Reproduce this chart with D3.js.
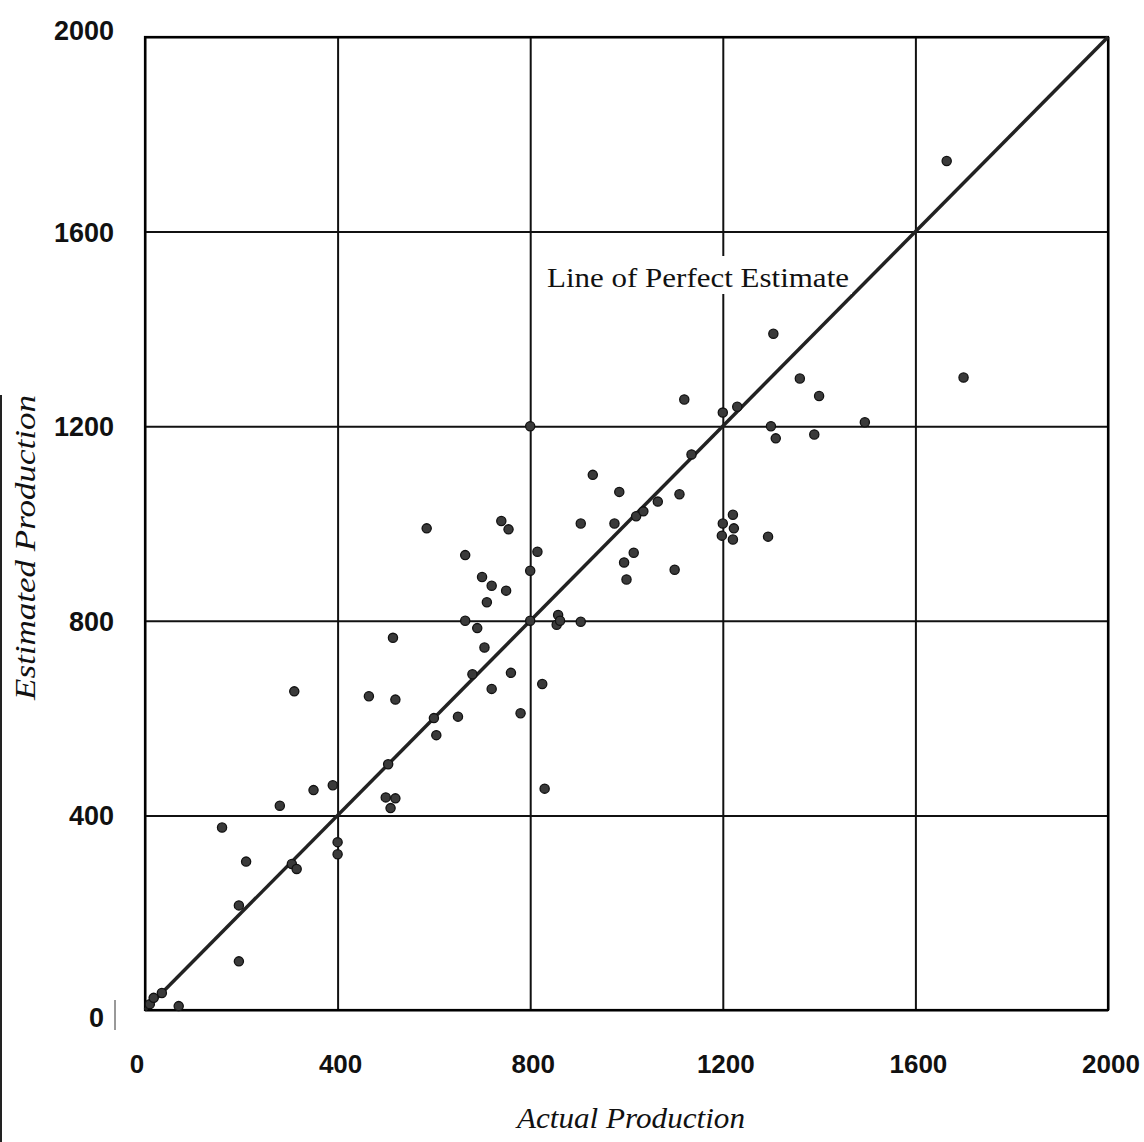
<!DOCTYPE html>
<html>
<head>
<meta charset="utf-8">
<script src="https://cdn.jsdelivr.net/npm/d3@7"></script>
<style>
  html, body { margin: 0; padding: 0; background: #fff; }
  svg { display: block; }
</style>
</head>
<body>
<div id="chart"></div>
<script>
// values
const actual = [10, 18, 35, 70, 160, 195, 195, 210, 280, 305, 315, 310, 350, 390, 400, 400,
  465, 500, 520, 510, 505, 515, 520, 600, 605, 650, 585, 665, 665, 680, 690, 700, 705, 710,
  720, 720, 740, 750, 755, 760, 780, 800, 800, 800, 815, 825, 830, 858, 855, 862, 905, 905,
  930, 975, 985, 995, 1000, 1015, 1020, 1035, 1065, 1100, 1110, 1120, 1135, 1200, 1200, 1198,
  1230, 1221, 1223, 1221, 1294, 1300, 1305, 1310, 1360, 1390, 1400, 1495, 1665, 1700];
const estimated = [12, 25, 35, 8, 375, 215, 100, 305, 420, 300, 290, 655, 452, 462, 345, 320,
  645, 437, 435, 415, 505, 765, 638, 600, 565, 603, 990, 935, 800, 690, 785, 890, 745, 838,
  872, 660, 1005, 862, 988, 693, 610, 800, 903, 1200, 942, 670, 455, 812, 792, 800, 798, 1000,
  1100, 1000, 1065, 920, 885, 940, 1015, 1025, 1045, 905, 1060, 1255, 1142, 1228, 1000, 975,
  1240, 1018, 990, 967, 973, 1200, 1390, 1175, 1298, 1183, 1262, 1208, 1745, 1300];
const ticks = [0, 400, 800, 1200, 1600, 2000];
const perfectLine = [0, 2000];

const W = 1144, H = 1142;
const plotLeft = 145, plotRight = 1108, plotTop = 37, plotBottom = 1010;

const svg = d3.select('#chart').append('svg')
    .attr('width', W)
    .attr('height', H);

const x = d3.scaleLinear().domain([0, 2000]).range([plotLeft, plotRight]);
const y = d3.scaleLinear().domain([0, 2000]).range([plotBottom, plotTop]);

// scan edge on the left
svg.append('line')
    .attr('x1', 1).attr('x2', 1)
    .attr('y1', 395).attr('y2', H)
    .attr('stroke', '#222')
    .attr('stroke-width', 2);

// grid
svg.append('g')
    .attr('transform', `translate(0,${plotBottom})`)
    .call(d3.axisBottom(x).tickValues(ticks).tickSize(-(plotBottom - plotTop)).tickFormat(''))
    .call(g => g.select('.domain').remove())
    .selectAll('line')
    .attr('stroke', '#111')
    .attr('stroke-width', 2);

svg.append('g')
    .attr('transform', `translate(${plotLeft},0)`)
    .call(d3.axisLeft(y).tickValues(ticks).tickSize(-(plotRight - plotLeft)).tickFormat(''))
    .call(g => g.select('.domain').remove())
    .selectAll('line')
    .attr('stroke', '#111')
    .attr('stroke-width', 2);

// frame
svg.append('rect')
    .attr('x', plotLeft).attr('y', plotTop)
    .attr('width', plotRight - plotLeft).attr('height', plotBottom - plotTop)
    .attr('fill', 'none')
    .attr('stroke', '#000')
    .attr('stroke-width', 2.2);

// tick labels
svg.selectAll('.xlab')
    .data(ticks)
    .enter()
    .append('text')
    .text(d => d)
    .attr('x', d => x(d) + (d === 0 ? -8 : 3))
    .attr('y', 1073)
    .attr('text-anchor', 'middle')
    .style('font-family', 'Liberation Sans, Arial, sans-serif')
    .style('font-weight', 'bold')
    .style('font-size', '26px')
    .style('fill', '#111');

svg.selectAll('.ylab')
    .data(ticks)
    .enter()
    .append('text')
    .text(d => d)
    .attr('x', d => d === 0 ? 104 : 114)
    .attr('y', d => y(d) + (d === 2000 ? 3 : d === 0 ? 17 : 10))
    .attr('text-anchor', 'end')
    .style('font-family', 'Liberation Sans, Arial, sans-serif')
    .style('font-weight', 'bold')
    .style('font-size', '27px')
    .style('fill', '#111');

svg.append('line')
    .attr('x1', 115).attr('x2', 115)
    .attr('y1', 1000).attr('y2', 1030)
    .attr('stroke', '#333')
    .attr('stroke-width', 1);

// line of perfect estimate
svg.append('line')
    .attr('x1', x(perfectLine[0])).attr('y1', y(perfectLine[0]))
    .attr('x2', x(perfectLine[1])).attr('y2', y(perfectLine[1]))
    .attr('stroke', '#222')
    .attr('stroke-width', 3.5);

// label sits on a white patch that breaks the 1200 gridline
svg.append('rect')
    .attr('x', 542).attr('y', 256)
    .attr('width', 310).attr('height', 38)
    .attr('fill', '#fff');

svg.append('text')
    .text('Line of Perfect Estimate')
    .attr('x', 547)
    .attr('y', 287)
    .attr('textLength', 302)
    .attr('lengthAdjust', 'spacingAndGlyphs')
    .style('font-family', 'Liberation Serif, Times New Roman, serif')
    .style('font-size', '27px')
    .style('fill', '#111');

// points
const pts = actual.map((a, i) => ({ a, e: estimated[i] }));
svg.selectAll('.pt')
    .data(pts)
    .enter()
    .append('circle')
    .attr('cx', d => x(d.a))
    .attr('cy', d => y(d.e))
    .attr('r', 4.6)
    .attr('fill', '#3a3a3a')
    .attr('stroke', '#111')
    .attr('stroke-width', 1.3);

// axis titles
svg.append('text')
    .text('Actual Production')
    .attr('x', 517)
    .attr('y', 1128)
    .attr('textLength', 228)
    .attr('lengthAdjust', 'spacingAndGlyphs')
    .style('font-family', 'Liberation Serif, Times New Roman, serif')
    .style('font-style', 'italic')
    .style('font-size', '29px')
    .style('fill', '#111');

svg.append('text')
    .text('Estimated Production')
    .attr('transform', 'translate(35,700) rotate(-90)')
    .attr('textLength', 305)
    .attr('lengthAdjust', 'spacingAndGlyphs')
    .style('font-family', 'Liberation Serif, Times New Roman, serif')
    .style('font-style', 'italic')
    .style('font-size', '30px')
    .style('fill', '#111');
</script>
</body>
</html>
